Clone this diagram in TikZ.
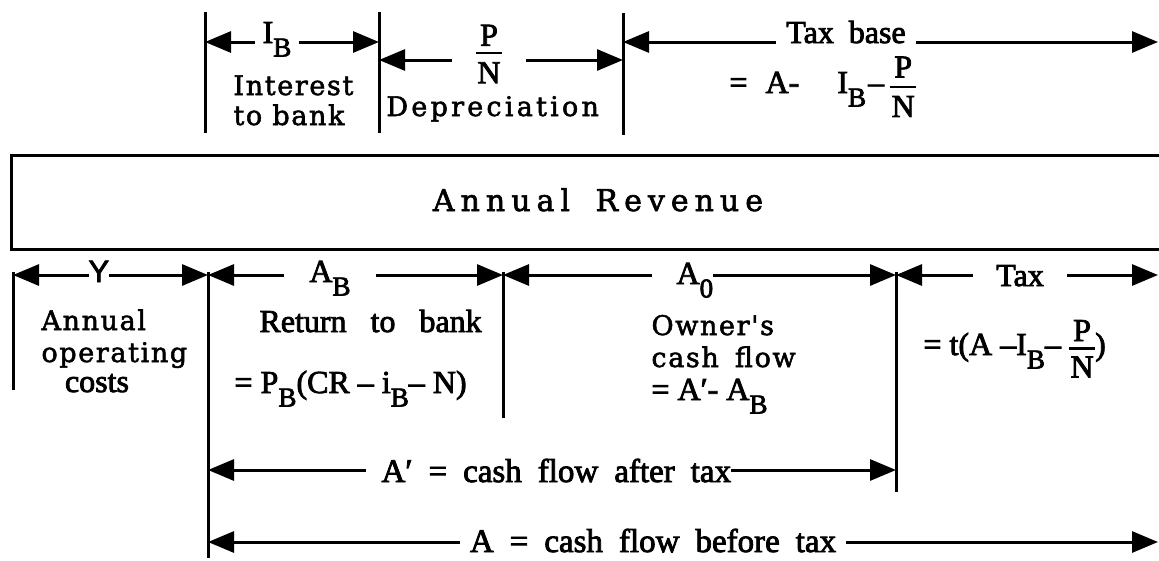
\documentclass[tikz,border=0pt]{standalone}
\usepackage{fontspec}
\usepackage{graphicx}
\setmainfont{Liberation Serif}[FakeBold=2.5]
\setsansfont{Liberation Sans}[FakeBold=2.5]
\newfontfamily\centsp[LetterSpace=6,FakeBold=2]{DejaVu Serif}
\newfontfamily\centdep[LetterSpace=12,FakeBold=2]{DejaVu Serif}
\newfontfamily\centwide[LetterSpace=20,FakeBold=2]{DejaVu Serif}
\usetikzlibrary{arrows.meta}
\newcommand\dn[1]{\raisebox{-0.42em}{\scalebox{0.85}{#1}}}
\newcommand\fr[4]{\ensuremath{\vcenter{\offinterlineskip\halign{\hfil\kern1.5pt##\kern1.5pt\hfil\cr\hbox{#1}\cr\noalign{\kern#3\hrule height 2.5pt\kern#4}\hbox{#2}\cr}}}}
\newcommand\tm{\fontsize{32}{36}\selectfont}
\newcommand\btm{\fontsize{33}{36}\selectfont\spaceskip=16pt plus 2pt}
\newcommand\ct{\centsp\fontsize{27}{30}\selectfont}
\newcommand\cts{\centsp\fontsize{27}{30}\selectfont}
\newcommand\pr{\symbol{"2032}}
\begin{document}
\begin{tikzpicture}[x=1pt,y=-1pt,line width=3pt,
  >={Triangle[length=26pt,width=21pt]},
  dim/.style={<->},
  lab/.style={fill=white,inner sep=0pt},
  txt/.style={inner sep=0pt,anchor=base west}]
\useasboundingbox (0,0) rectangle (1159,560);
% vertical lines (top row)
\coordinate (v1t) at (205,12);  \coordinate (v1b) at (205,133);
\coordinate (v2t) at (379,12);  \coordinate (v2b) at (379,133);
\coordinate (v3t) at (623,13);  \coordinate (v3b) at (623,135);
\draw (v1t) -- (v1b);
\draw (v2t) -- (v2b);
\draw (v3t) -- (v3b);
% arrow end points (top row)
\coordinate (ib1) at (205,42); \coordinate (ib2) at (379,42);
\coordinate (pn1) at (379,60); \coordinate (pn2) at (623,60);
\coordinate (tb1) at (623,42); \coordinate (tb2) at (1158,42);
\draw[dim] (ib1) -- (ib2);
\draw[dim] (pn1) -- (pn2);
\draw[dim] (tb1) -- (tb2);
% revenue box
\coordinate (bx1) at (1159,155); \coordinate (bx2) at (11,155);
\coordinate (bx3) at (11,249);  \coordinate (bx4) at (1159,249);
\draw[line join=miter] (bx1) -- (bx2) -- (bx3) -- (bx4);
\node[font=\centwide\fontsize{30}{32}\selectfont,inner sep=0pt,anchor=base] (rev) at (598,211) {Annual\hspace{10pt} Revenue};
% vertical lines (lower part)
\coordinate (vYt) at (13,272);  \coordinate (vYb) at (13,390);
\coordinate (vAt) at (208,272); \coordinate (vAb) at (208,558);
\coordinate (vBt) at (503,272); \coordinate (vBb) at (503,418);
\coordinate (vCt) at (896,272); \coordinate (vCb) at (896,492);
\draw (vYt) -- (vYb);
\draw (vAt) -- (vAb);
\draw (vBt) -- (vBb);
\draw (vCt) -- (vCb);
% row arrows
\coordinate (r0) at (13,275); \coordinate (r1) at (208,275);
\coordinate (r2) at (503,275); \coordinate (r3) at (896,275);
\coordinate (r4) at (1158,275);
\draw[dim] (r0) -- (r1);
\draw[dim] (r1) -- (r2);
\draw[dim] (r2) -- (r3);
\draw[dim] (r3) -- (r4);
\coordinate (ap1) at (208,470); \coordinate (ap2) at (896,470);
\coordinate (a1) at (208,542);  \coordinate (a2) at (1158,542);
\draw[dim] (ap1) -- (ap2);
\draw[dim] (a1) -- (a2);
% labels on arrows
\node[lab,font=\tm,anchor=base,inner xsep=8pt] (IB) at (277,43) {I\dn{B}};
\node[lab,font=\tm,inner xsep=24pt] (PN) at (489,54) {\fr{P}{N}{6pt}{8pt}};
\node[lab,font=\tm,anchor=base,inner xsep=10pt,inner ysep=3pt] (TB) at (846,43) {Tax\hspace{7pt} base};
\node[lab,font=\sffamily\fontsize{31}{36}\selectfont,anchor=base west] (Y) at (87,282) {Y\hspace{23pt}};
\node[lab,font=\tm,anchor=base,inner xsep=25pt] (AB) at (330,282) {A\dn{B}};
\node[lab,font=\tm,anchor=base west] (A0) at (650,284) {\hspace{25pt}A\dn{0}\hspace{7pt}};
\node[lab,font=\tm,anchor=base,inner xsep=23pt] (TX) at (1020,286) {Tax};
\node[lab,font=\btm,anchor=base west] (Ap) at (364,482) {\hspace{16pt}A\pr{} = cash flow after tax};
\node[lab,font=\btm,anchor=base,inner xsep=10pt] (Af) at (653,552) {A = cash flow before tax};
% texts
\node[txt,font=\ct] (int1) at (232,95) {Interest};
\node[txt,font=\ct] (int2) at (232,125) {to bank};
\node[txt,font=\centdep\fontsize{27}{30}\selectfont] (dep) at (385,116) {Depreciation};
\node[txt,font=\tm] (tbf) at (728,93) {=\hspace{18pt}A-\hspace{38pt}I\dn{B}\hspace{2pt}–\hspace{6pt}\fr{P}{N}{8pt}{8pt}};
\node[txt,font=\cts] (ann) at (40,330) {Annual};
\node[txt,font=\cts] (opr) at (40,362) {operating};
\node[txt,font=\tm,anchor=base] (cst) at (97,392) {costs};
\node[txt,font=\tm] (ret) at (258,332) {Return\enspace{} to\enspace{} bank};
\node[txt,font=\tm] (pb) at (233,393) {= P\dn{B}(CR – i\dn{B}– N)};
\node[txt,font=\ct] (own) at (650,335) {Owner's};
\node[txt,font=\ct] (cfl) at (650,367) {cash\hspace{6pt} flow};
\node[txt,font=\tm] (aab) at (650,400) {= A\pr- A\dn{B}};
\node[txt,font=\tm] (txf) at (922,355) {= t(A –I\dn{B}– \fr{P}{N}{6pt}{7pt})};
\end{tikzpicture}
\end{document}
